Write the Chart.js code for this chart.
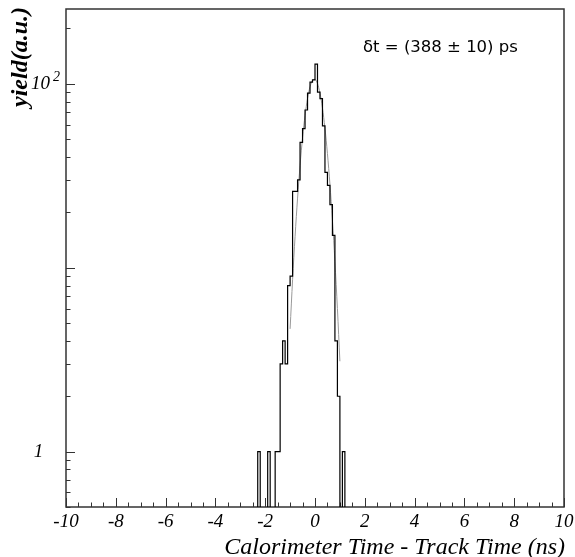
<!DOCTYPE html>
<html>
<head>
<meta charset="utf-8">
<script src="https://cdn.jsdelivr.net/npm/chart.js@4.4.0/dist/chart.umd.min.js"></script>
<style>
  html, body { margin: 0; padding: 0; background: #fff; }
</style>
</head>
<body>
<canvas id="timeChart" width="575" height="557"></canvas>
<script>
// histogram, 0.1 ns bins starting at -2.5 ns
const binStart = -2.5;
const binWidth = 0.1;
const counts = [0, 0, 1, 0, 0, 0, 1, 0, 0, 1,
                1, 3, 4, 3, 8, 9, 26, 26, 30, 48,
                57, 72, 89, 102, 105, 128, 90, 83, 59, 33,
                28, 22, 15, 4, 2, 0, 1, 0, 0, 0];

// gaussian fit curve
const fitX = [-1.0, -0.9, -0.8, -0.7, -0.6, -0.5, -0.4, -0.3, -0.2, -0.1, 0.0,
              0.1, 0.2, 0.3, 0.4, 0.5, 0.6, 0.7, 0.8, 0.9, 1.0];
const fitY = [4.65, 8.6, 14.8, 23.9, 36, 50.9, 67.3, 83.2, 96.3, 104.3, 105.7,
              100.2, 88.9, 73.8, 57.4, 41.7, 28.4, 18.1, 10.8, 6.0, 3.1];

const xTicks = [-10, -8, -6, -4, -2, 0, 2, 4, 6, 8, 10];
const yLabels = [1, 100];
const resolutionText = 'δt = (388 ± 10) ps';
const xTitle = 'Calorimeter Time - Track Time (ns)';
const yTitle = 'yield(a.u.)';

// empty bins go below the log axis and get clipped at the frame
const emptyLevel = 0.1;
const histPoints = counts.map((c, i) => ({ x: binStart + i * binWidth, y: c > 0 ? c : emptyLevel }));
histPoints.push({ x: binStart + counts.length * binWidth, y: emptyLevel });
const fitPoints = fitX.map((x, i) => ({ x: x, y: fitY[i] }));

// frame, inward ticks and the extra texts
const pawFrame = {
  id: 'pawFrame',
  beforeDatasetsDraw(chart) {
    const { ctx, chartArea: a, scales } = chart;
    const xs = scales.x, ys = scales.y;
    ctx.save();
    ctx.strokeStyle = '#333';
    ctx.lineWidth = 1.5;
    ctx.strokeRect(a.left, a.top, a.right - a.left, a.bottom - a.top);
    ctx.lineWidth = 1;
    ctx.beginPath();
    for (let v = -10; v <= 10.001; v += 0.5) {
      const px = Math.round(xs.getPixelForValue(v)) + 0.5;
      const len = Math.abs(v / 2 - Math.round(v / 2)) < 1e-6 ? 9 : 4.5;
      ctx.moveTo(px, a.bottom);
      ctx.lineTo(px, a.bottom - len);
    }
    for (let d = 0.1; d <= 100; d *= 10) {
      for (let m = 1; m <= 9; m++) {
        const v = d * m;
        if (v < ys.min || v > ys.max) continue;
        const py = Math.round(ys.getPixelForValue(v)) + 0.5;
        const len = m === 1 ? 9 : 4.5;
        ctx.moveTo(a.left, py);
        ctx.lineTo(a.left + len, py);
      }
    }
    ctx.stroke();
    ctx.restore();
  },
  afterDraw(chart) {
    const { ctx, scales } = chart;
    const ys = scales.y;
    ctx.save();
    ctx.fillStyle = '#000';
    ctx.textBaseline = 'middle';
    // y tick labels
    ctx.font = 'italic 19px "Liberation Serif"';
    ctx.textAlign = 'center';
    ctx.fillText('1', 38.5, ys.getPixelForValue(yLabels[0]));
    const y100 = ys.getPixelForValue(yLabels[1]);
    ctx.textAlign = 'right';
    ctx.fillText('10', 50, y100);
    ctx.font = 'italic 14px "Liberation Serif"';
    ctx.textAlign = 'left';
    ctx.fillText('2', 53, y100 - 6);
    // annotation
    ctx.font = '16.5px "DejaVu Sans"';
    ctx.fillText(resolutionText, 363, 48);
    // x title
    ctx.font = 'italic 24px "Liberation Serif"';
    ctx.textAlign = 'right';
    ctx.textBaseline = 'alphabetic';
    ctx.fillText(xTitle, 565, 554);
    // y title
    ctx.translate(21, 7);
    ctx.rotate(-Math.PI / 2);
    ctx.font = 'bold italic 24px "Liberation Serif"';
    ctx.textAlign = 'right';
    ctx.textBaseline = 'middle';
    ctx.fillText(yTitle, 0, 0);
    ctx.restore();
  }
};

const ctx = document.getElementById('timeChart').getContext('2d');
new Chart(ctx, {
  type: 'line',
  data: {
    datasets: [
      {
        data: histPoints,
        stepped: true,
        borderColor: '#000',
        borderWidth: 1.2,
        pointRadius: 0,
        fill: false,
        clip: 0,
      },
      {
        data: fitPoints,
        borderColor: '#999',
        borderWidth: 1,
        pointRadius: 0,
        cubicInterpolationMode: 'monotone',
        fill: false,
      },
    ],
  },
  options: {
    responsive: false,
    animation: false,
    devicePixelRatio: 1,
    layout: { padding: { top: 9, right: 11, left: 0, bottom: 0 } },
    plugins: { legend: { display: false }, tooltip: { enabled: false } },
    scales: {
      x: {
        type: 'linear',
        min: -10,
        max: 10,
        afterBuildTicks: (s) => { s.ticks = xTicks.map(v => ({ value: v })); },
        ticks: {
          autoSkip: false,
          maxRotation: 0,
          padding: 4,
          color: '#000',
          font: { family: 'Liberation Serif', style: 'italic', size: 19 },
        },
        grid: { display: false, drawTicks: false },
        border: { display: false },
        afterFit: (s) => {
          s.height = 50;
          // keep the end labels from shrinking the plot area
          s.paddingLeft = 0;
          s.paddingRight = 0;
        },
      },
      y: {
        type: 'logarithmic',
        min: 0.5,
        max: 255,
        ticks: { display: false },
        grid: { display: false, drawTicks: false },
        border: { display: false },
        afterFit: (s) => { s.width = 66; },
      },
    },
  },
  plugins: [pawFrame],
});
</script>
</body>
</html>
